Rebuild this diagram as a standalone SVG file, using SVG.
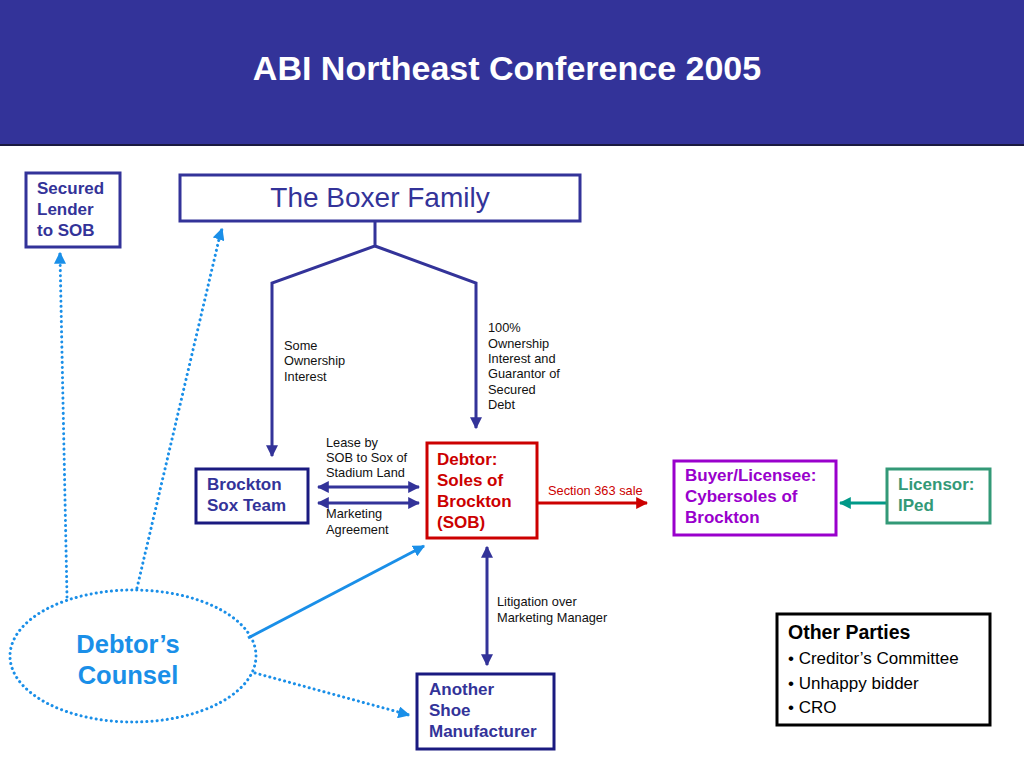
<svg xmlns="http://www.w3.org/2000/svg" width="1024" height="768" viewBox="0 0 1024 768">
<style>
text{font-family:"Liberation Sans",Arial,sans-serif}
.box{fill:#fff;stroke-width:3}
.blue{stroke:#333399}
.bt{fill:#333399;font-weight:bold;font-size:17px}
.lbl{fill:#111;font-size:12.8px}
.conn{stroke:#333399;stroke-width:3;fill:none}
.dot{stroke:#1a8fe8;stroke-width:3;fill:none;stroke-dasharray:0.1 5;stroke-linecap:round}
</style>
<defs>
<marker id="ah" viewBox="0 0 10 10" refX="9" refY="5" markerWidth="4" markerHeight="4" orient="auto-start-reverse"><path d="M0,0L10,5L0,10z" fill="#333399"/></marker>
<marker id="ahr" viewBox="0 0 10 10" refX="9" refY="5" markerWidth="4" markerHeight="4" orient="auto"><path d="M0,0L10,5L0,10z" fill="#cc0000"/></marker>
<marker id="ahg" viewBox="0 0 10 10" refX="9" refY="5" markerWidth="4" markerHeight="4" orient="auto"><path d="M0,0L10,5L0,10z" fill="#009988"/></marker>
<marker id="ahb" viewBox="0 0 10 10" refX="9" refY="5" markerWidth="4" markerHeight="4" orient="auto"><path d="M0,0L10,5L0,10z" fill="#1a8fe8"/></marker>
</defs>
<rect width="1024" height="768" fill="#fff"/>
<g id="header">
<rect x="0" y="0" width="1024" height="145" fill="#333399"/>
<line x1="0" y1="145" x2="1024" y2="145" stroke="#1a1a40" stroke-width="2"/>
<text x="507" y="80" text-anchor="middle" fill="#fff" font-size="34" font-weight="bold">ABI Northeast Conference 2005</text>
</g>
<g id="connectors">
<path class="conn" d="M375,221V246L272,283V456" marker-end="url(#ah)"/>
<path class="conn" d="M375,246L476,283V428" marker-end="url(#ah)"/>
<line class="conn" x1="318" y1="487" x2="419" y2="487" marker-start="url(#ah)" marker-end="url(#ah)"/>
<line class="conn" x1="318" y1="503" x2="419" y2="503" marker-start="url(#ah)" marker-end="url(#ah)"/>
<line class="conn" x1="487" y1="547" x2="487" y2="665" marker-start="url(#ah)" marker-end="url(#ah)"/>
<line x1="538" y1="503" x2="647" y2="503" stroke="#cc0000" stroke-width="3" marker-end="url(#ahr)"/>
<line x1="887" y1="503" x2="840" y2="503" stroke="#009988" stroke-width="3" marker-end="url(#ahg)"/>
<path class="dot" d="M67,597L60,256"/>
<path d="M60,262L60,253" stroke="#1a8fe8" stroke-width="3" marker-end="url(#ahb)"/>
<path class="dot" d="M137,588L220,235"/>
<path d="M219,238L222,229" stroke="#1a8fe8" stroke-width="3" marker-end="url(#ahb)"/>
<line x1="248" y1="638" x2="424" y2="546" stroke="#1a8fe8" stroke-width="3" marker-end="url(#ahb)"/>
<path class="dot" d="M255,673L402,713"/>
<path d="M401,713L409,715" stroke="#1a8fe8" stroke-width="3" marker-end="url(#ahb)"/>
<text class="lbl" x="284" y="350">Some</text>
<text class="lbl" x="284" y="365">Ownership</text>
<text class="lbl" x="284" y="381">Interest</text>
<text class="lbl" x="488" y="332">100%</text>
<text class="lbl" x="488" y="348">Ownership</text>
<text class="lbl" x="488" y="363">Interest and</text>
<text class="lbl" x="488" y="378">Guarantor of</text>
<text class="lbl" x="488" y="394">Secured</text>
<text class="lbl" x="488" y="409">Debt</text>
<text class="lbl" x="326" y="447">Lease by</text>
<text class="lbl" x="326" y="462">SOB to Sox of</text>
<text class="lbl" x="326" y="477">Stadium Land</text>
<text class="lbl" x="326" y="518">Marketing</text>
<text class="lbl" x="326" y="534">Agreement</text>
<text class="lbl" x="548" y="495" style="fill:#cc0000">Section 363 sale</text>
<text class="lbl" x="497" y="606">Litigation over</text>
<text class="lbl" x="497" y="622">Marketing Manager</text>
</g>
<g id="secured-lender">
<rect class="box blue" x="26" y="173" width="94" height="74"/>
<text class="bt" x="37" y="194">Secured</text>
<text class="bt" x="37" y="215">Lender</text>
<text class="bt" x="37" y="236">to SOB</text>
</g>
<g id="boxer-family">
<rect class="box blue" x="180" y="175" width="400" height="46"/>
<text x="380" y="207" text-anchor="middle" fill="#333399" font-size="28">The Boxer Family</text>
</g>
<g id="brockton-sox">
<rect class="box" stroke="#1a1a80" x="196" y="469" width="112" height="54"/>
<text class="bt" x="207" y="490">Brockton</text>
<text class="bt" x="207" y="511">Sox Team</text>
</g>
<g id="debtor">
<rect class="box" stroke="#cc0000" x="427" y="443" width="110" height="95"/>
<text class="bt" style="fill:#cc0000" x="437" y="465">Debtor:</text>
<text class="bt" style="fill:#cc0000" x="437" y="486">Soles of</text>
<text class="bt" style="fill:#cc0000" x="437" y="507">Brockton</text>
<text class="bt" style="fill:#cc0000" x="437" y="528">(SOB)</text>
</g>
<g id="buyer">
<rect class="box" stroke="#9900cc" x="674" y="461" width="162" height="74"/>
<text class="bt" style="fill:#9900cc" x="685" y="481">Buyer/Licensee:</text>
<text class="bt" style="fill:#9900cc" x="685" y="502">Cybersoles of</text>
<text class="bt" style="fill:#9900cc" x="685" y="523">Brockton</text>
</g>
<g id="licensor">
<rect class="box" stroke="#339977" x="887" y="469" width="103" height="54"/>
<text class="bt" style="fill:#339977" x="898" y="490">Licensor:</text>
<text class="bt" style="fill:#339977" x="898" y="511">IPed</text>
</g>
<g id="another-shoe">
<rect class="box" stroke="#1a1a80" x="417" y="674" width="137" height="75"/>
<text class="bt" x="429" y="695">Another</text>
<text class="bt" x="429" y="716">Shoe</text>
<text class="bt" x="429" y="737">Manufacturer</text>
</g>
<g id="other-parties">
<rect class="box" stroke="#000" x="777" y="614" width="213" height="111"/>
<text x="788" y="639" font-size="19.5" font-weight="bold" fill="#000">Other Parties</text>
<text x="788" y="664" font-size="17" fill="#000">• Creditor’s Committee</text>
<text x="788" y="689" font-size="17" fill="#000">• Unhappy bidder</text>
<text x="788" y="713" font-size="17" fill="#000">• CRO</text>
</g>
<g id="debtors-counsel">
<ellipse class="dot" cx="133" cy="656" rx="123" ry="66"/>
<text x="128" y="653" text-anchor="middle" fill="#1a8fe8" font-size="25.5" font-weight="bold">Debtor’s</text>
<text x="128" y="684" text-anchor="middle" fill="#1a8fe8" font-size="25.5" font-weight="bold">Counsel</text>
</g>
</svg>
